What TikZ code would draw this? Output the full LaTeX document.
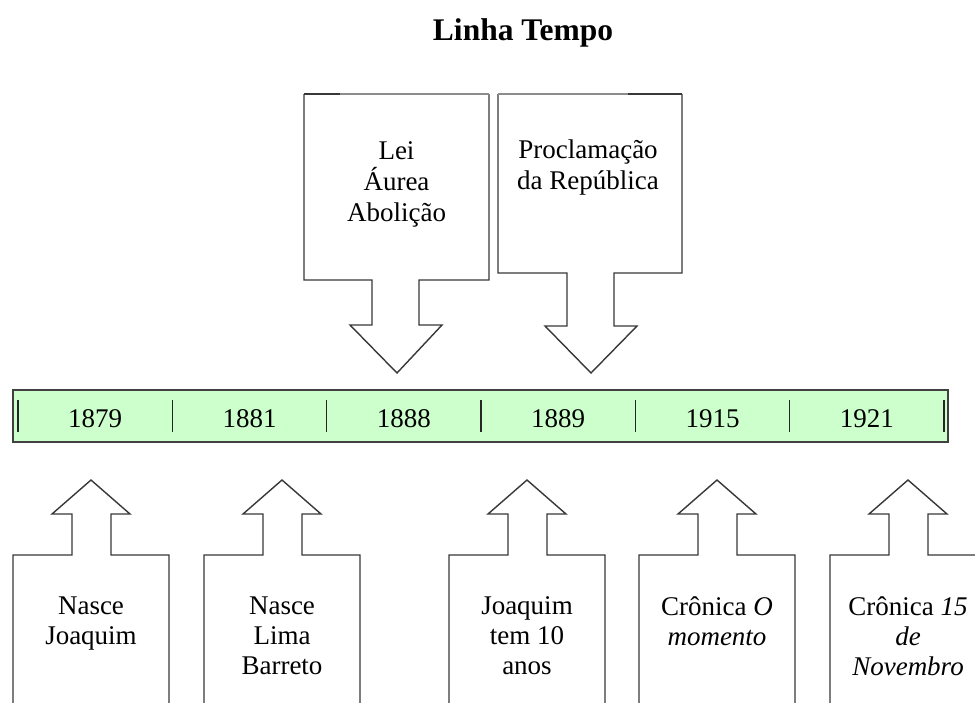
\documentclass[tikz,border=0pt]{standalone}
\usepackage{fontspec}
\setmainfont{Liberation Serif}
\begin{document}
\begin{tikzpicture}[x=1pt,y=-1pt,
  calloutline/.style={draw=black!78,line width=1.4pt,line join=miter},
  topedge/.style={draw=black!45,line width=1.4pt},
  bartext/.style={font=\fontsize{27}{31}\selectfont,inner sep=0pt,anchor=base},
  boxtext/.style={font=\fontsize{27}{30}\selectfont,inner sep=0pt,anchor=north,align=center},
  toptext/.style={font=\fontsize{27}{31}\selectfont,inner sep=0pt,anchor=north,align=center},
  sepline/.style={draw=black!85,line width=1.3pt},
  upcallout/.pic={
    \draw[calloutline] (0,712) -- (0,555) -- (59,555) -- (59,514) -- (39,514)
      -- (78,480) -- (117,514) -- (98,514) -- (98,555) -- (156,555) -- (156,712);
  }]
\useasboundingbox (0,0) rectangle (975,702);
\clip (0,0) rectangle (975,702);
\fill[white] (0,0) rectangle (975,702);

% title
\node[font=\fontsize{31.5}{36}\selectfont\bfseries,inner sep=0pt,anchor=base] (title) at (523,40) {Linha Tempo};

% top callouts
\draw[calloutline] (304,94) -- (304,280) -- (372,280) -- (372,325) -- (350,325)
  -- (397,373) -- (442,325) -- (419,325) -- (419,280) -- (489,280) -- (489,94);
\draw[topedge] (304,94) -- (489,94);
\draw[calloutline] (304,94) -- (340,94);
\draw[calloutline] (498,94) -- (498,273) -- (567,273) -- (567,326) -- (545,326)
  -- (591,373) -- (637,326) -- (614,326) -- (614,273) -- (682,273) -- (682,94);
\draw[topedge] (498,94) -- (682,94);
\draw[calloutline] (628,94) -- (682,94);
\node[toptext] (lei) at (396.5,141.6) {Lei\\Áurea\\Abolição};
\node[toptext] (procl) at (588,139.6) {Proclamação\\da República};

% timeline bar
\draw[fill={rgb,255:red,204;green,255;blue,204},draw=black!75,line width=1.3pt] (13,390) rectangle (948,442);
\foreach \k in {0,...,6} {
  \draw[sepline] ({18+\k*154.33},400) -- ({18+\k*154.33},432);
}
\node[bartext] (y1879) at (95.2,427) {1879};
\node[bartext] (y1881) at (249.5,427) {1881};
\node[bartext] (y1888) at (403.8,427) {1888};
\node[bartext] (y1889) at (558.2,427) {1889};
\node[bartext] (y1915) at (712.5,427) {1915};
\node[bartext] (y1921) at (866.8,427) {1921};

% bottom callouts
\pic at (13,0) {upcallout};
\pic at (204,0) {upcallout};
\pic at (449,0) {upcallout};
\pic at (639,0) {upcallout};
\pic at (830,0) {upcallout};
\node[boxtext] (b1) at (91,596.6) {Nasce\\Joaquim};
\node[boxtext] (b2) at (282,596.6) {Nasce\\Lima\\Barreto};
\node[boxtext] (b3) at (527,596.6) {Joaquim\\tem 10\\anos};
\node[boxtext] (b4) at (717,596.6) {Crônica \textit{O}\\\textit{momento}};
\node[boxtext] (b5) at (908,596.6) {Crônica \textit{15}\\\textit{de}\\\textit{Novembro}};
\end{tikzpicture}
\end{document}
